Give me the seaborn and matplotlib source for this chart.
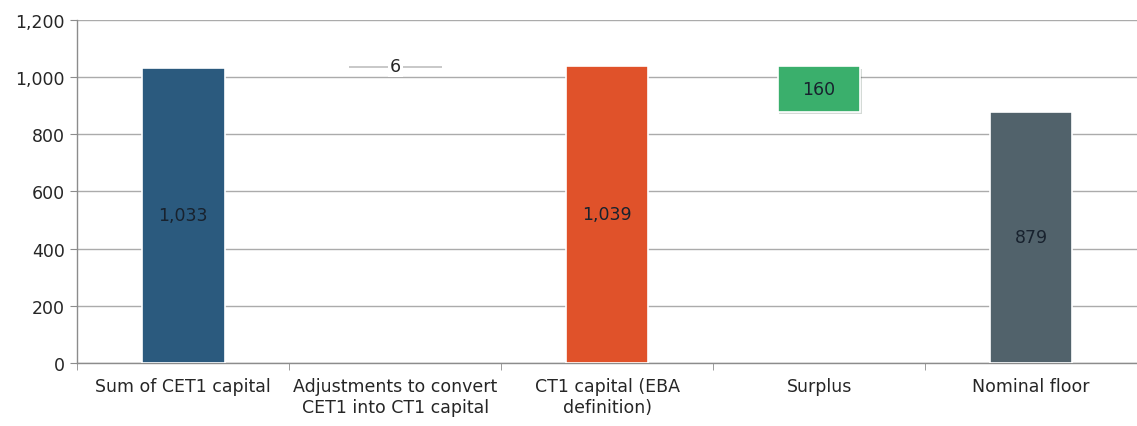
import matplotlib
matplotlib.use("Agg")
import matplotlib.pyplot as plt
import matplotlib.patheffects as pe
import seaborn as sns
import pandas as pd
import numpy as np

categories = ["Sum of CET1 capital", "Adjustments to convert\nCET1 into CT1 capital",
              "CT1 capital (EBA\ndefinition)", "Surplus", "Nominal floor"]
values = [1033, 6, 1039, 160, 879]
is_total = [True, False, True, False, True]
labels = ["1,033", "6", "1,039", "160", "879"]
colors = ["#2b5a7e", "#c9c9c9", "#e0522a", "#3aaf6c", "#51626b"]
yticks = [0, 200, 400, 600, 800, 1000, 1200]

# floating bars: adjustment sits on the CET1 sum, surplus sits on the floor
bottoms = [0, values[0], 0, values[4], 0]

sns.set_style("white")
plt.rcParams['font.family'] = ['DejaVu Sans']

fig = plt.figure(figsize=(11.37, 4.27), dpi=100)
ax = fig.add_axes([0.068, 0.1475, 0.932, 0.8035])

df = pd.DataFrame({"cat": [c for c, t in zip(categories, is_total) if t],
                   "h": [v for v, t in zip(values, is_total) if t]})
sns.barplot(data=df, x="cat", y="h", order=categories, hue="cat", hue_order=categories,
            palette=colors, legend=False, width=0.39, edgecolor="white", linewidth=1.2,
            saturation=1, ax=ax, zorder=3)

for i in range(len(values)):
    if is_total[i]:
        continue
    if i == 3:
        ax.bar(i, values[i], bottom=bottoms[i], width=0.39, color=colors[i],
               edgecolor="white", linewidth=1.2, zorder=3,
               path_effects=[pe.SimplePatchShadow(offset=(1, -2), alpha=0.18), pe.Normal()])
    else:
        ax.bar(i, values[i], bottom=bottoms[i], width=0.44, color=colors[i],
               linewidth=0, zorder=3)

for i in range(len(values)):
    y = bottoms[i] + values[i] / 2
    if i == 1:
        ax.text(i, bottoms[i] + values[i], labels[i], ha="center", va="center",
                fontsize=12.5, color="#262626", zorder=4,
                bbox=dict(facecolor="white", edgecolor="none", pad=1.5))
    else:
        ax.text(i, y, labels[i], ha="center", va="center", fontsize=12.5,
                color="#18222e", zorder=4)

ax.set_ylim(0, 1200)
ax.set_xlim(-0.5, 4.5)
ax.set_yticks(yticks)
ax.set_yticklabels([f"{t:,}" for t in yticks])
ax.yaxis.grid(True, color="#ababab", linewidth=1, zorder=0)
ax.set_axisbelow(True)
ax.set_xlabel("")
ax.set_ylabel("")

for s in ["top", "right"]:
    ax.spines[s].set_visible(False)
for s in ["left", "bottom"]:
    ax.spines[s].set_color("#8c8c8c")
    ax.spines[s].set_linewidth(1)

ax.tick_params(axis="y", left=True, length=5, color="#8c8c8c", labelsize=12.5,
               labelcolor="#262626", pad=4)
ax.tick_params(axis="x", length=0, labelsize=12.5, labelcolor="#262626", pad=10)
ax.set_xticks(np.arange(-0.5, 5, 1), minor=True)
ax.tick_params(axis="x", which="minor", bottom=True, length=5, color="#8c8c8c")

fig.savefig("out.png", dpi=100)
